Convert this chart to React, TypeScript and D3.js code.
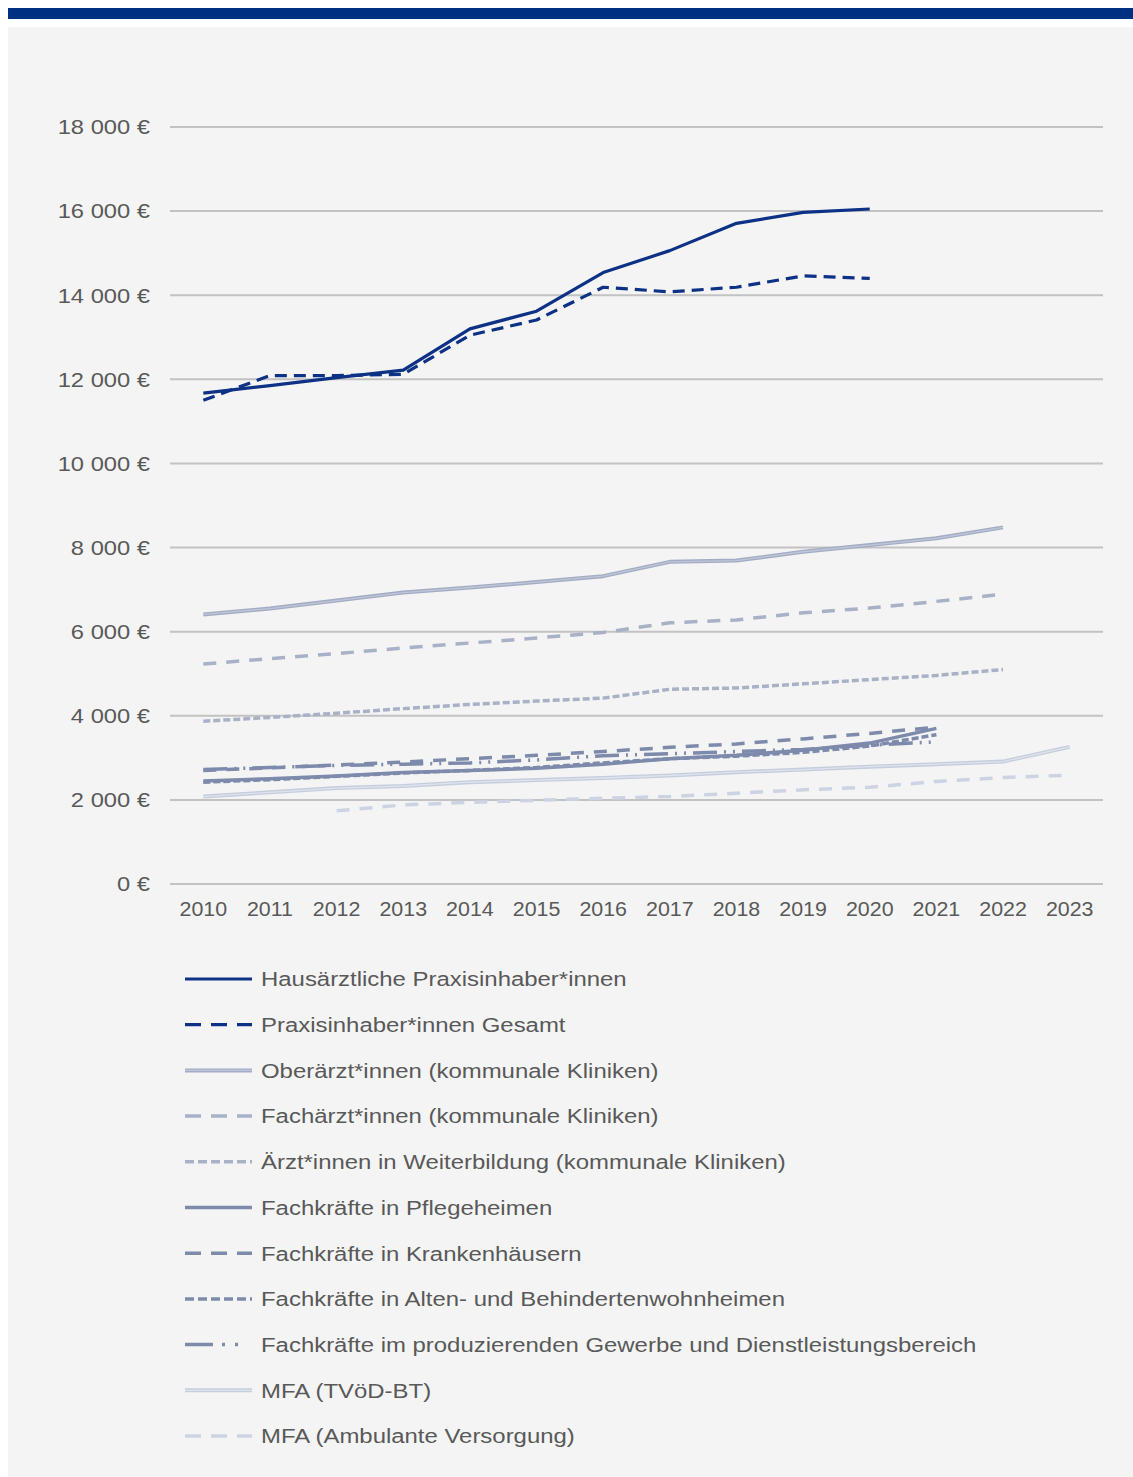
import React, { useEffect } from "react";
import * as d3 from "d3";

const years = ["2010","2011","2012","2013","2014","2015","2016","2017","2018","2019","2020","2021","2022","2023"];
const yTicks = [0, 2000, 4000, 6000, 8000, 10000, 12000, 14000, 16000, 18000];

const hausaerzt = [11670, 11850, 12040, 12220, 13200, 13620, 14540, 15060, 15710, 15970, 16050, null, null, null];
const praxisGesamt = [11500, 12090, 12090, 12120, 13050, 13410, 14190, 14080, 14190, 14460, 14400, null, null, null];
const oberaerzt = [6410, 6550, 6740, 6930, 7050, 7180, 7320, 7660, 7690, 7900, 8060, 8220, 8480, null];
const facharzt = [5230, 5360, 5480, 5610, 5730, 5850, 5980, 6210, 6280, 6450, 6560, 6720, 6890, null];
const weiterbildung = [3870, 3960, 4060, 4170, 4270, 4350, 4420, 4630, 4660, 4760, 4860, 4960, 5100, null];
const pflegeheime = [2450, 2500, 2570, 2650, 2700, 2750, 2850, 2980, 3060, 3180, 3350, 3700, null, null];
const krankenhaus = [2700, 2760, 2830, 2900, 2980, 3060, 3150, 3250, 3330, 3450, 3580, 3730, null, null];
const altenheime = [2420, 2480, 2560, 2640, 2700, 2770, 2880, 2980, 3040, 3130, 3280, 3550, null, null];
const produzierend = [2720, 2770, 2820, 2850, 2880, 2950, 3050, 3100, 3150, 3200, 3300, 3380, null, null];
const mfaTvoed = [2080, 2180, 2280, 2330, 2420, 2470, 2520, 2580, 2660, 2720, 2790, 2850, 2910, 3260];
const mfaAmbulant = [null, null, 1740, 1880, 1940, 1990, 2040, 2080, 2160, 2240, 2300, 2440, 2530, 2590];

const seriesNames = [
  "Hausärztliche Praxisinhaber*innen",
  "Praxisinhaber*innen Gesamt",
  "Oberärzt*innen (kommunale Kliniken)",
  "Fachärzt*innen (kommunale Kliniken)",
  "Ärzt*innen in Weiterbildung (kommunale Kliniken)",
  "Fachkräfte in Pflegeheimen",
  "Fachkräfte in Krankenhäusern",
  "Fachkräfte in Alten- und Behindertenwohnheimen",
  "Fachkräfte im produzierenden Gewerbe und Dienstleistungsbereich",
  "MFA (TVöD-BT)",
  "MFA (Ambulante Versorgung)",
];
const seriesValues = [hausaerzt, praxisGesamt, oberaerzt, facharzt, weiterbildung, pflegeheime, krankenhaus, altenheime, produzierend, mfaTvoed, mfaAmbulant];

const styles = [
  { color: "#0c3185", dash: null, legendDash: null, width: 3.2, inner: null },
  { color: "#0c3185", dash: "12 7", legendDash: "16 10", width: 3.2, inner: null },
  { color: "#a3acc4", dash: null, legendDash: null, width: 4, inner: "#bfc6d7" },
  { color: "#a9b1c7", dash: "13 10", legendDash: "16 10", width: 3.5, inner: null },
  { color: "#a9b1c7", dash: "7 3", legendDash: "9 4", width: 3.5, inner: null },
  { color: "#7d8aab", dash: null, legendDash: null, width: 3.5, inner: null },
  { color: "#7d8aab", dash: "13 10", legendDash: "16 10", width: 3.5, inner: null },
  { color: "#7d8aab", dash: "7 3", legendDash: "9 4", width: 3.5, inner: null },
  { color: "#7d8aab", dash: "24 7 2 7 2 7", legendDash: "28 9 3 10 3 30", width: 3.5, inner: null },
  { color: "#c5cddd", dash: null, legendDash: null, width: 4, inner: "#dfe3ec" },
  { color: "#cdd3e2", dash: "13 10", legendDash: "16 10", width: 3.5, inner: null },
];

const FONT = "'Liberation Sans', Arial, sans-serif";

export default function App() {
  useEffect(() => {
    document.body.style.margin = "0";
    document.body.style.overflow = "hidden";
  }, []);

  const x = d3.scalePoint<string>().domain(years).range([170, 1103]).padding(0.5);
  const y = d3.scaleLinear().domain([0, 18000]).range([884, 127]);
  const fmt = (v: number) => (v === 0 ? "0 €" : d3.format(",")(v).replace(",", " ") + " €");

  const line = d3
    .line<number | null>()
    .defined((d) => d !== null)
    .x((_, i) => x(years[i]) as number)
    .y((d) => y(d as number));

  const legendY0 = 979;
  const legendStep = 45.7;

  return (
    <svg width={1133} height={1477} style={{ display: "block", fontFamily: FONT }}>
      <rect x={0} y={0} width={1133} height={1477} fill="#ffffff" />
      <rect x={8} y={8} width={1125} height={11} fill="#003082" />
      <rect x={8} y={27} width={1125} height={1450} fill="#f4f4f4" />

      {yTicks.map((t) => (
        <g key={t}>
          <line x1={170} x2={1103} y1={y(t)} y2={y(t)} stroke="#c2c2c2" strokeWidth={2} />
          <text
            transform={`translate(150,${y(t)}) scale(1.13,1)`}
            dy="0.35em"
            textAnchor="end"
            fontSize={21}
            fill="#595959"
          >
            {fmt(t)}
          </text>
        </g>
      ))}

      {years.map((yr) => (
        <text
          key={yr}
          transform={`translate(${x(yr)},916) scale(1.07,1)`}
          textAnchor="middle"
          fontSize={20}
          fill="#595959"
        >
          {yr}
        </text>
      ))}

      {seriesValues
        .map((vals, i) => ({ vals, i }))
        .reverse()
        .map(({ vals, i }) => {
          const s = styles[i];
          return (
            <g key={i}>
              <path
                d={line(vals) || ""}
                fill="none"
                stroke={s.color}
                strokeWidth={s.width}
                strokeDasharray={s.dash || undefined}
                strokeLinejoin="round"
              />
              {s.inner && (
                <path d={line(vals) || ""} fill="none" stroke={s.inner} strokeWidth={1.3} strokeLinejoin="round" />
              )}
            </g>
          );
        })}

      {seriesNames.map((name, i) => {
        const s = styles[i];
        const ly = legendY0 + i * legendStep;
        return (
          <g key={name}>
            <line
              x1={185}
              x2={252}
              y1={ly}
              y2={ly}
              stroke={s.color}
              strokeWidth={s.width}
              strokeDasharray={s.legendDash || undefined}
            />
            {s.inner && <line x1={185} x2={252} y1={ly} y2={ly} stroke={s.inner} strokeWidth={1.3} />}
            <text transform={`translate(261,${ly}) scale(1.14,1)`} dy="0.35em" fontSize={21} fill="#595959">
              {name}
            </text>
          </g>
        );
      })}
    </svg>
  );
}
